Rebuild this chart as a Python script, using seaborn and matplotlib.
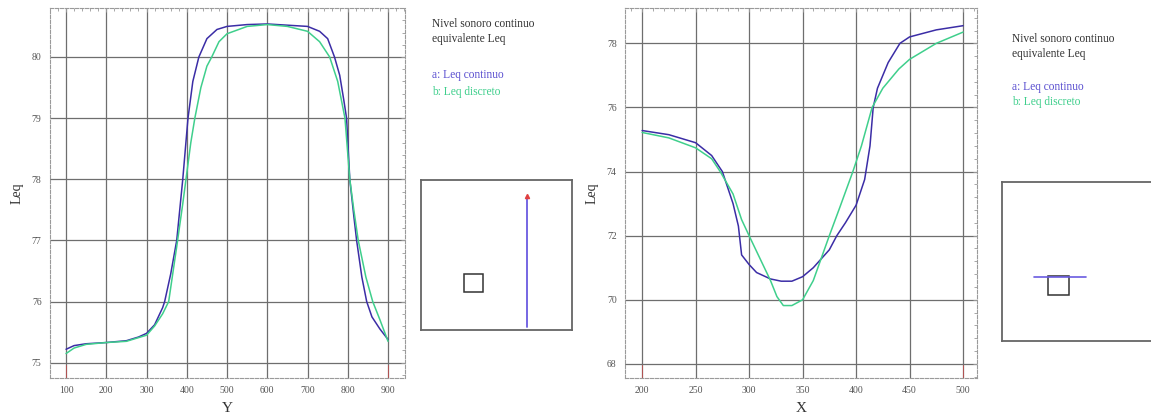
import numpy as np
import pandas as pd
import seaborn as sns
import matplotlib
matplotlib.use('Agg')
import matplotlib.pyplot as plt
from matplotlib.patches import Rectangle
from matplotlib.ticker import MultipleLocator

sns.set_theme(style='white')
plt.rcParams['font.family'] = ['Liberation Serif', 'DejaVu Serif']

# perfil a lo largo de Y
y_pos = [100, 120, 150, 200, 250, 280, 300, 320, 340, 345, 360, 375, 390, 403, 415, 430, 450, 475,
         500, 550, 600, 650, 700, 730, 750, 767, 780, 790, 797, 805, 815, 822, 835, 847, 860, 880, 900]
leq_cont_y = [75.22, 75.28, 75.31, 75.33, 75.36, 75.42, 75.48, 75.62, 75.9, 76.0, 76.45, 77.0, 78.0, 79.0,
              79.6, 80.0, 80.3, 80.45, 80.5, 80.53, 80.54, 80.52, 80.5, 80.42, 80.3, 80.0, 79.7, 79.3,
              79.0, 78.0, 77.4, 77.0, 76.4, 76.0, 75.75, 75.55, 75.38]
y_pos_d = [100, 120, 150, 200, 250, 300, 320, 340, 355, 375, 390, 398, 410, 420, 435, 450, 462, 480,
           500, 550, 600, 650, 700, 730, 755, 775, 793, 805, 815, 826, 845, 862, 880, 900]
leq_disc_y = [75.15, 75.24, 75.3, 75.33, 75.35, 75.45, 75.6, 75.8, 76.0, 76.9, 77.6, 78.0, 78.6, 79.0,
              79.5, 79.85, 80.0, 80.25, 80.38, 80.5, 80.53, 80.5, 80.42, 80.25, 80.0, 79.6, 79.0, 78.0,
              77.5, 77.0, 76.4, 76.0, 75.7, 75.35]

# perfil a lo largo de X
x_pos = [200, 225, 250, 265, 275, 285, 290, 293, 300, 307, 320, 330, 340, 350, 360, 375, 382, 390,
         400, 408, 413, 416, 420, 430, 441, 450, 475, 500]
leq_cont_x = [75.28, 75.15, 74.9, 74.5, 74.0, 73.0, 72.3, 71.4, 71.1, 70.85, 70.65, 70.58, 70.58, 70.72,
              71.0, 71.56, 72.0, 72.4, 72.95, 73.75, 74.8, 76.0, 76.6, 77.4, 78.0, 78.2, 78.42, 78.55]
x_pos_d = [200, 225, 250, 265, 273, 285, 293, 300, 310, 320, 326, 332, 340, 350, 360, 375, 385, 397,
           405, 415, 425, 440, 450, 475, 500]
leq_disc_x = [75.22, 75.05, 74.74, 74.4, 74.0, 73.3, 72.5, 72.0, 71.3, 70.6, 70.1, 69.82, 69.82, 70.0,
              70.6, 72.0, 72.9, 74.0, 74.8, 76.0, 76.6, 77.2, 77.5, 78.0, 78.35]

titulo = 'Nivel sonoro continuo\nequivalente Leq'
nombres = ['a: Leq continuo', 'b: Leq discreto']
colores = ['#3b2da6', '#3fcf8c']
paleta = dict(zip(nombres, colores))

df_y = pd.concat([pd.DataFrame({'pos': y_pos, 'Leq': leq_cont_y, 'serie': nombres[0]}),
                  pd.DataFrame({'pos': y_pos_d, 'Leq': leq_disc_y, 'serie': nombres[1]})])
df_x = pd.concat([pd.DataFrame({'pos': x_pos, 'Leq': leq_cont_x, 'serie': nombres[0]}),
                  pd.DataFrame({'pos': x_pos_d, 'Leq': leq_disc_x, 'serie': nombres[1]})])

fig = plt.figure(figsize=(11.51, 4.18), dpi=100)
ax1 = fig.add_axes([0.0434, 0.0957, 0.3084, 0.885])
ax2 = fig.add_axes([0.543, 0.0957, 0.3058, 0.885])


def estilo(ax, df, xlim, ylim, xmaj, xmin, ymaj, ymin, xlabel, ends):
    sns.lineplot(data=df, x='pos', y='Leq', hue='serie', palette=paleta, sort=False,
                 estimator=None, lw=1.1, legend=False, ax=ax)
    ax.set_xlim(xlim)
    ax.set_ylim(ylim)
    ax.xaxis.set_major_locator(MultipleLocator(xmaj))
    ax.xaxis.set_minor_locator(MultipleLocator(xmin))
    ax.yaxis.set_major_locator(MultipleLocator(ymaj))
    ax.yaxis.set_minor_locator(MultipleLocator(ymin))
    ax.grid(True, which='major', color='#6e6e6e', lw=0.9)
    ax.tick_params(which='both', direction='in', top=True, right=True, color='#999999')
    ax.tick_params(which='major', length=3, width=0.7, labelsize=7, pad=6, labelcolor='#555555')
    ax.tick_params(which='minor', length=2, width=0.6)
    for s in ax.spines.values():
        s.set_color('#9a9a9a')
        s.set_linewidth(0.8)
        s.set_linestyle((0, (3, 1.5)))
    ax.set_xlabel(xlabel, fontsize=11, labelpad=5, color='#333333')
    ax.set_ylabel('Leq', fontsize=10, labelpad=6, color='#333333')
    for e in ends:
        ax.axvline(e, ymin=0, ymax=0.035, color='#e04040', lw=0.6, alpha=0.7)


estilo(ax1, df_y, (60, 942), (74.75, 80.8), 100, 20, 1, 0.2, 'Y', [100, 900])
estilo(ax2, df_x, (184, 513), (67.56, 79.1), 50, 10, 2, 0.4, 'X', [200, 500])

# leyendas de texto
for tx, ty, ya, yb in [(0.3755, 0.957, 0.8206, 0.780), (0.879, 0.921, 0.792, 0.756)]:
    fig.text(tx, ty, titulo, fontsize=8.3, va='top', ha='left', color='#333333', linespacing=1.3)
    fig.text(tx, ya, nombres[0], fontsize=8.3, color='#5a4fd0', va='center')
    fig.text(tx, yb, nombres[1], fontsize=8.3, color=colores[1], va='center')

# esquemas de ubicacion
in1 = fig.add_axes([0.3658, 0.2105, 0.1312, 0.359])
in2 = fig.add_axes([0.8706, 0.1842, 0.14, 0.380])
for ax in (in1, in2):
    ax.set_xlim(0, 1)
    ax.set_ylim(0, 1)
    ax.set_xticks([])
    ax.set_yticks([])
    for s in ax.spines.values():
        s.set_color('#666666')
        s.set_linewidth(1.3)
in1.add_patch(Rectangle((0.285, 0.253), 0.125, 0.12, fill=False, ec='#333333', lw=1.1))
in1.plot([0.70, 0.70], [0.02, 0.88], color='#6a5be0', lw=1.3)
in1.plot([0.70], [0.89], marker='^', ms=3, color='#e04040')
in2.add_patch(Rectangle((0.287, 0.29), 0.126, 0.12, fill=False, ec='#333333', lw=1.1))
in2.plot([0.2, 0.52], [0.40, 0.40], color='#6a5be0', lw=1.2)

fig.savefig('out.png', dpi=100)
